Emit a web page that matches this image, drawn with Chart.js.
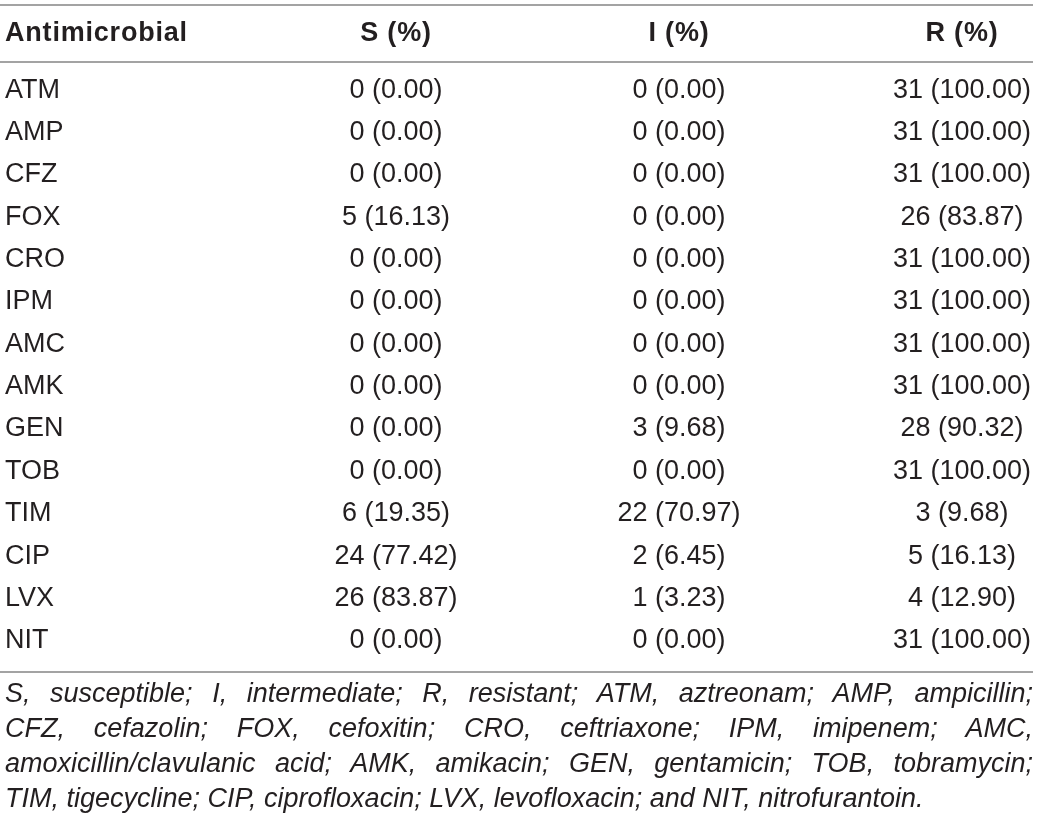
<!DOCTYPE html>
<html>
<head>
<meta charset="utf-8">
<script src="https://cdn.jsdelivr.net/npm/chart.js@4"></script>
<style>
    body { margin: 0; background: #fff; }
    #page { position: relative; width: 1040px; height: 829px; }
    #wrap { position: absolute; left: 0; top: 0; width: 1040px; height: 680px; }
    #note {
        position: absolute; left: 5px; top: 676px; width: 1028px;
        font: italic 27px "Liberation Sans", Arial, sans-serif;
        line-height: 35px; color: #231f20;
    }
    #note div { text-align: justify; text-align-last: justify; white-space: nowrap; }
    #note div.last { text-align-last: left; }
</style>
</head>
<body>
<div id="page">
    <div id="wrap"><canvas id="tableChart"></canvas></div>
    <div id="note">
        <div>S, susceptible; I, intermediate; R, resistant; ATM, aztreonam; AMP, ampicillin;</div>
        <div>CFZ, cefazolin; FOX, cefoxitin; CRO, ceftriaxone; IPM, imipenem; AMC,</div>
        <div>amoxicillin/clavulanic acid; AMK, amikacin; GEN, gentamicin; TOB, tobramycin;</div>
        <div class="last">TIM, tigecycline; CIP, ciprofloxacin; LVX, levofloxacin; and NIT, nitrofurantoin.</div>
    </div>
</div>
<script>
// Table data
const rowHeader = 'Antimicrobial';
const antimicrobials = ['ATM', 'AMP', 'CFZ', 'FOX', 'CRO', 'IPM', 'AMC', 'AMK', 'GEN', 'TOB', 'TIM', 'CIP', 'LVX', 'NIT'];
const columns = ['S (%)', 'I (%)', 'R (%)'];

const sCount = [0, 0, 0, 5, 0, 0, 0, 0, 0, 0, 6, 24, 26, 0];
const sPct = [0, 0, 0, 16.13, 0, 0, 0, 0, 0, 0, 19.35, 77.42, 83.87, 0];
const iCount = [0, 0, 0, 0, 0, 0, 0, 0, 3, 0, 22, 2, 1, 0];
const iPct = [0, 0, 0, 0, 0, 0, 0, 0, 9.68, 0, 70.97, 6.45, 3.23, 0];
const rCount = [31, 31, 31, 26, 31, 31, 31, 31, 28, 31, 3, 5, 4, 31];
const rPct = [100, 100, 100, 83.87, 100, 100, 100, 100, 90.32, 100, 9.68, 16.13, 12.90, 100];

const FONT = '"Liberation Sans", Arial, sans-serif';
const TEXT_COLOR = '#231f20';
const RULE_COLOR = '#a3a3a3';

const counts = [sCount, iCount, rCount];
const pcts = [sPct, iPct, rPct];

// Format a cell like "26 (83.87)"
function cellText(count, pct) {
    return count + ' (' + pct.toFixed(2) + ')';
}

// Draws header row, rules and cell texts at the points placed by the scales
const tablePlugin = {
    id: 'tableCells',
    afterDatasetsDraw(chart) {
        const ctx = chart.ctx;
        const area = chart.chartArea;
        const xScale = chart.scales.x;
        const yScale = chart.scales.y;

        ctx.save();

        // horizontal rules
        ctx.strokeStyle = RULE_COLOR;
        ctx.lineWidth = 2;
        [area.top - 64, area.top - 7, area.bottom + 10].forEach(y => {
            ctx.beginPath();
            ctx.moveTo(0, y);
            ctx.lineTo(1033, y);
            ctx.stroke();
        });

        // header row
        const headY = area.top - 35;
        ctx.fillStyle = TEXT_COLOR;
        ctx.font = 'bold 27px ' + FONT;
        ctx.letterSpacing = '0.8px';
        ctx.textBaseline = 'middle';
        ctx.textAlign = 'left';
        ctx.fillText(rowHeader, yScale.left, headY);
        ctx.textAlign = 'center';
        columns.forEach((c, i) => {
            ctx.fillText(c, xScale.getPixelForValue(i), headY);
        });
        ctx.letterSpacing = '0px';

        // cells
        ctx.font = '27px ' + FONT;
        chart.data.datasets.forEach((ds, d) => {
            const meta = chart.getDatasetMeta(d);
            meta.data.forEach((pt, i) => {
                ctx.fillText(cellText(counts[d][i], pcts[d][i]), pt.x, pt.y);
            });
        });

        ctx.restore();
    }
};

function init() {
    const datasets = columns.map(c => ({
        label: c,
        data: antimicrobials.map(a => ({ x: c, y: a })),
        pointRadius: 0,
        pointHoverRadius: 0
    }));

    new Chart(document.getElementById('tableChart'), {
        type: 'scatter',
        data: { datasets: datasets },
        options: {
            responsive: true,
            maintainAspectRatio: false,
            animation: false,
            events: [],
            layout: { padding: { top: 69, left: 5, right: 78, bottom: 18 } },
            plugins: { legend: { display: false }, tooltip: { enabled: false } },
            scales: {
                x: {
                    type: 'category',
                    labels: columns,
                    offset: false,
                    display: false
                },
                y: {
                    type: 'category',
                    labels: antimicrobials,
                    offset: true,
                    grid: { display: false },
                    border: { display: false },
                    ticks: {
                        crossAlign: 'far',
                        padding: 0,
                        color: TEXT_COLOR,
                        font: { family: FONT, size: 27 }
                    },
                    afterFit(scale) {
                        scale.width = 391;
                    }
                }
            }
        },
        plugins: [tablePlugin]
    });
}

document.addEventListener('DOMContentLoaded', init);
</script>
</body>
</html>
